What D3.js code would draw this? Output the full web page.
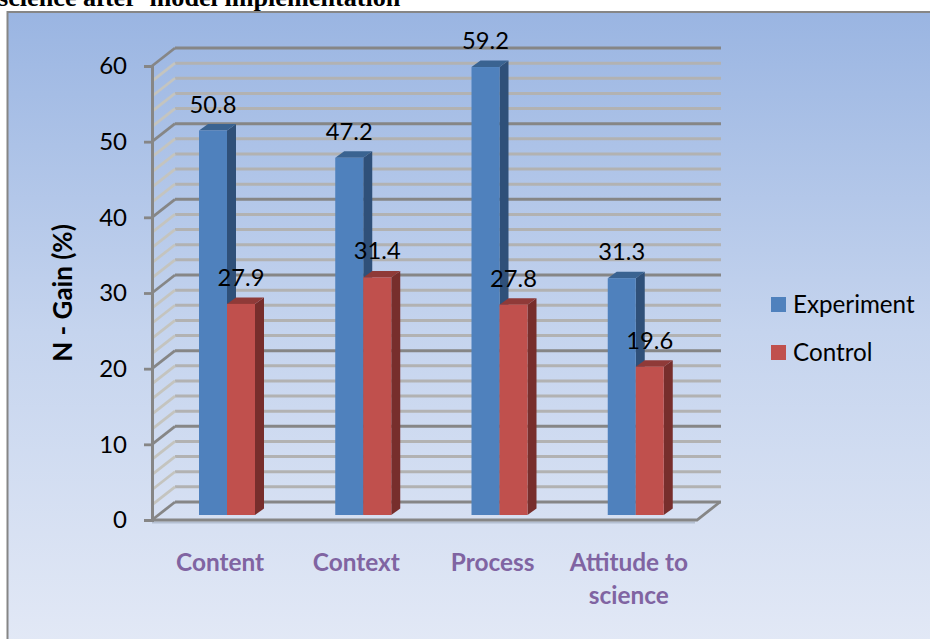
<!DOCTYPE html>
<html>
<head>
<meta charset="utf-8">
<script src="https://cdn.jsdelivr.net/npm/d3@7"></script>
<style>
  html, body { margin: 0; padding: 0; background: #fff; overflow: hidden; }
  text { font-family: Lato, "Open Sans", sans-serif; }
</style>
</head>
<body>
<div id="chart"></div>
<script>
const categories = ["Content", "Context", "Process", "Attitude to science"];
const seriesNames = ["Experiment", "Control"];
const experiment = [50.8, 47.2, 59.2, 31.3];
const control = [27.9, 31.4, 27.8, 19.6];
const yTicks = [0, 10, 20, 30, 40, 50, 60];
const minorTicks = [2, 4, 6, 8, 12, 14, 16, 18, 22, 24, 26, 28, 32, 34, 36, 38, 42, 44, 46, 48, 52, 54, 56, 58];

const colors = {
  Experiment: { front: "#4f81bd", top: "#3a6391", side: "#2f5079" },
  Control: { front: "#c0504d", top: "#8f3a38", side: "#772e2c" }
};

const width = 930;
const height = 639;
const depth = { x: 23, y: -18 };      // offset of back wall from the front plane
const barDepth = { x: 9, y: -6.5 };

const svg = d3
  .select("#chart")
  .append("svg")
  .attr("width", width)
  .attr("height", height);

const defs = svg.append("defs");
const grad = defs
  .append("linearGradient")
  .attr("id", "bg")
  .attr("x1", 0)
  .attr("y1", 0)
  .attr("x2", 0)
  .attr("y2", 1);
grad.append("stop").attr("offset", "0%").attr("stop-color", "#9ab5e2");
grad.append("stop").attr("offset", "50%").attr("stop-color", "#c5d4ee");
grad.append("stop").attr("offset", "100%").attr("stop-color", "#e3e9f6");

// title, cut off by the top of the picture
svg
  .append("text")
  .attr("x", -2)
  .attr("y", 5.5)
  .style("font-family", "'Liberation Serif', serif")
  .style("font-weight", "bold")
  .style("font-size", "26.2px")
  .attr("fill", "#000")
  .attr("xml:space", "preserve")
  .text("science after  model implementation");

// chart area frame
svg
  .append("rect")
  .attr("x", 7.5)
  .attr("y", 12)
  .attr("width", 940)
  .attr("height", 640)
  .attr("fill", "url(#bg)")
  .attr("stroke", "#868686")
  .attr("stroke-width", 2);

const y = d3.scaleLinear().domain([0, 60]).range([520, 66]);
const x0 = d3.scaleBand().domain(categories).range([152, 697]);
const x1 = d3.scaleBand().domain(seriesNames).range([47, 103]);

// grid: wall lines and side wall lines, minor first so major sit on top
function gridLine(g, v, color) {
  g.append("line")
    .attr("x1", 152 + depth.x)
    .attr("x2", 697 + depth.x + 1)
    .attr("y1", y(v) + depth.y)
    .attr("y2", y(v) + depth.y)
    .attr("stroke", color)
    .attr("stroke-width", 3);
  g.append("line")
    .attr("x1", 152)
    .attr("x2", 152 + depth.x)
    .attr("y1", y(v))
    .attr("y2", y(v) + depth.y)
    .attr("stroke", color === "#868686" ? "#868686" : "#c4c4bf")
    .attr("stroke-width", 2.8);
}

const grid = svg.append("g");
minorTicks.forEach((v) => gridLine(grid, v, "#b2b2b2"));
yTicks.forEach((v) => gridLine(grid, v, "#868686"));

// soft shadow under the floor edge
grid
  .append("line")
  .attr("x1", 152)
  .attr("x2", 695)
  .attr("y1", y(0) + 2.5)
  .attr("y2", y(0) + 2.5)
  .attr("stroke", "#b4bfd2")
  .attr("stroke-width", 2);

// floor
grid
  .append("path")
  .attr(
    "d",
    d3.line()([
      [152, y(0)],
      [697, y(0)],
      [697 + depth.x, y(0) + depth.y]
    ])
  )
  .attr("fill", "none")
  .attr("stroke", "#868686")
  .attr("stroke-width", 2.8);

// value axis, drawn by d3 and then restyled
const axis = svg
  .append("g")
  .attr("transform", "translate(152,0)")
  .call(d3.axisLeft(y).tickValues(yTicks).tickSize(8).tickPadding(17).tickFormat(d3.format("d")));
axis.select(".domain").attr("stroke", "#868686").attr("stroke-width", 3);
axis.selectAll(".tick line").attr("stroke", "#868686").attr("stroke-width", 2.8);
axis
  .selectAll(".tick text")
  .style("font-size", "24px")
  .style("font-family", "Lato, sans-serif")
  .attr("fill", "#000");

svg
  .append("text")
  .attr("transform", "translate(72,293) rotate(-90)")
  .attr("text-anchor", "middle")
  .style("font-size", "26px")
  .style("font-weight", "bold")
  .attr("fill", "#000")
  .text("N - Gain (%)");

// bars
const barBase = y(0) - 5;
const barY = d3.scaleLinear().domain([0, 60]).range([barBase, barBase - (y(0) - y(60))]);

function bar(g, cat, name, value) {
  const bx = x0(cat) + x1(name);
  const bw = x1.bandwidth();
  const top = barY(value);
  const c = colors[name];
  g.append("path")
    .attr(
      "d",
      d3.line()([
        [bx + bw, top],
        [bx + bw + barDepth.x, top + barDepth.y],
        [bx + bw + barDepth.x, barBase + barDepth.y],
        [bx + bw, barBase]
      ]) + "Z"
    )
    .attr("fill", c.side);
  g.append("path")
    .attr(
      "d",
      d3.line()([
        [bx, top],
        [bx + barDepth.x, top + barDepth.y],
        [bx + bw + barDepth.x, top + barDepth.y],
        [bx + bw, top]
      ]) + "Z"
    )
    .attr("fill", c.top);
  g.append("rect")
    .attr("x", bx)
    .attr("y", top)
    .attr("width", bw)
    .attr("height", barBase - top)
    .attr("fill", c.front);
}

const bars = svg.append("g");
categories.forEach((cat, i) => {
  bar(bars, cat, "Experiment", experiment[i]);
  bar(bars, cat, "Control", control[i]);
});

// data labels go on top of all the bars
const labels = svg.append("g");
categories.forEach((cat, i) => {
  [["Experiment", experiment[i]], ["Control", control[i]]].forEach(([name, value]) => {
    labels
      .append("text")
      .attr("x", x0(cat) + x1(name) + x1.bandwidth() / 2)
      .attr("y", barY(value) - 18)
      .attr("text-anchor", "middle")
      .style("font-size", "23.7px")
      .attr("fill", "#000")
      .text(d3.format(".1f")(value));
  });
});

// category labels, two lines for the long one
const catLabels = [["Content"], ["Context"], ["Process"], ["Attitude to", "science"]];
categories.forEach((cat, i) => {
  catLabels[i].forEach((line, j) => {
    svg
      .append("text")
      .attr("x", x0(cat) + x0.bandwidth() / 2)
      .attr("y", 571 + j * 33)
      .attr("text-anchor", "middle")
      .style("font-size", "24.4px")
      .style("font-weight", "bold")
      .attr("fill", "#8064a2")
      .text(line);
  });
});

// legend
const legend = d3.scalePoint().domain(seriesNames).range([304.5, 352.5]);
seriesNames.forEach((name) => {
  svg
    .append("rect")
    .attr("x", 771)
    .attr("y", legend(name) - 7.5)
    .attr("width", 15)
    .attr("height", 15)
    .attr("fill", colors[name].front);
  svg
    .append("text")
    .attr("x", 793)
    .attr("y", legend(name) + 8)
    .style("font-size", "24.2px")
    .attr("fill", "#000")
    .text(name);
});
</script>
</body>
</html>
